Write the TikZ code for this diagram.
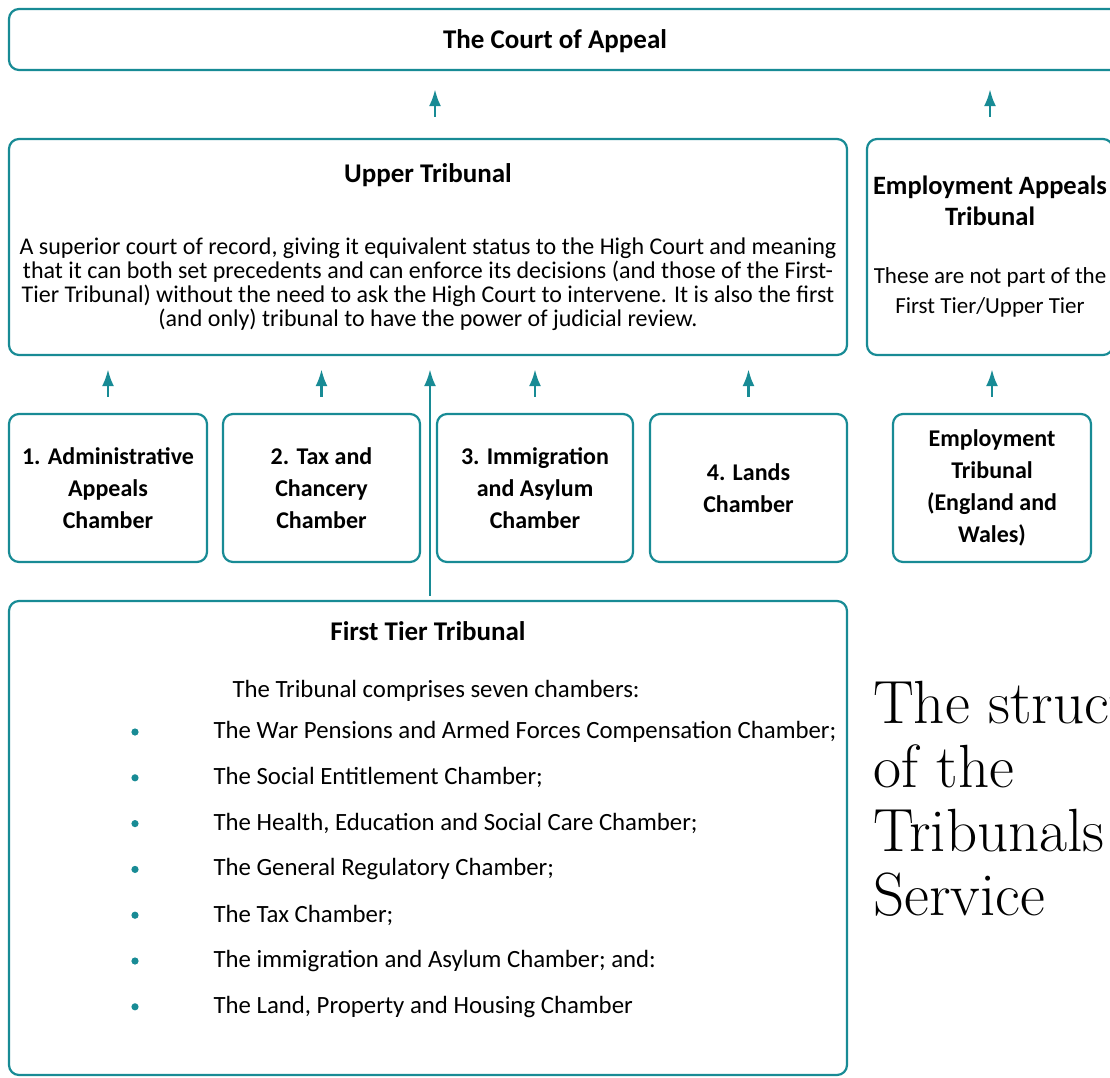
\documentclass[tikz,border=0pt]{standalone}
\usepackage{fontspec}
\newfontfamily\calib{Carlito}
\usepackage{xcolor}
\usetikzlibrary{calc}
\usetikzlibrary{arrows.meta}
\definecolor{tealline}{RGB}{24,139,149}
\tikzset{
  box/.style={draw=tealline, line width=2.2, rounded corners=10, align=center, inner sep=0,
    font=\calib\fontsize{24}{24}\selectfont},
  chamber/.style={box, minimum width=197, minimum height=148,
    font=\calib\bfseries\fontsize{24}{32}\selectfont},
  heading/.style={font=\calib\bfseries\fontsize{27}{27}\selectfont},
  listtext/.style={anchor=west, font=\calib\fontsize{24.8}{25}\selectfont},
  arr/.style={-{Latex[length=17pt,width=12pt]}, draw=tealline, line width=2.8},
}

\begin{document}
\begin{tikzpicture}[x=1pt,y=-1pt]
  \useasboundingbox (0,0) rectangle (1110,1077);

  % top row
  \node[box, minimum width=1121, minimum height=61] (court) at (569.5,39.5) {};
  \node[heading] (courtlbl) at (555,41) {The Court of Appeal};

  % second row
  \node[box, minimum width=838, minimum height=216] (upper) at (428,247)
    {{\bfseries\fontsize{27}{24}\selectfont Upper Tribunal}\\[48]
     A superior court of record, giving it equivalent status to the High Court and meaning\\
     that it can both set precedents and can enforce its decisions (and those of the First-\\
     Tier Tribunal) without the need to ask the High Court to intervene. It is also the first\\
     (and only) tribunal to have the power of judicial review.};
  \node[box, minimum width=246, minimum height=216] (eat) at (990,247)
    {{\bfseries\fontsize{26.5}{24}\selectfont Employment Appeals}\\[7]
     {\bfseries\fontsize{26.5}{24}\selectfont Tribunal}\\[34]
     {\fontsize{23}{24}\selectfont These are not part of the}\\[6]
     {\fontsize{23}{24}\selectfont First Tier/Upper Tier}};

  % chambers
  \node[chamber, minimum width=198] (ch1) at (108,488) {1. Administrative\\Appeals\\Chamber};
  \node[chamber] (ch2) at (321.5,488) {2. Tax and\\Chancery\\Chamber};
  \node[chamber, minimum width=196] (ch3) at (535,488) {3. Immigration\\and Asylum\\Chamber};
  \node[chamber] (ch4) at (748.5,488) {4. Lands\\Chamber};
  \node[chamber, minimum width=198] (et) at (992,488) {Employment\\Tribunal\\(England and\\Wales)};

  % first tier
  \node[box, minimum width=838, minimum height=474] (first) at (428,838) {};
  \node[heading] (firstlbl) at (428,631) {First Tier Tribunal};
  \node[listtext] (intro) at (229,691) {The Tribunal comprises seven chambers:};
  \foreach \txt [count=\i] in {
      {The War Pensions and Armed Forces Compensation Chamber;},
      {The Social Entitlement Chamber;},
      {The Health, Education and Social Care Chamber;},
      {The General Regulatory Chamber;},
      {The Tax Chamber;},
      {The immigration and Asylum Chamber; and:},
      {The Land, Property and Housing Chamber}} {
    \fill[tealline] (135,{732+45.8*(\i-1)}) circle (3.6);
    \node[listtext] (item\i) at (210,{732+45.8*(\i-1)}) {\txt};
  }

  % side title
  \node[anchor=base west, align=left, inner sep=0, font=\fontsize{61}{64}\selectfont] (title) at (873,915)
    {The structure\\of the\\Tribunals\\Service};

  % arrows
  \draw[arr] ([xshift=7,yshift=21]upper.north) -- ([yshift=-18]court.south -| 435,0);
  \draw[arr] ([yshift=21]eat.north) -- ([yshift=-18]court.south -| eat.north);
  \foreach \c in {ch1,ch2,ch3,ch4}
    \draw[arr] ([yshift=16]\c.north) -- ([yshift=-13]upper.south -| \c.north);
  \draw[arr] ([yshift=16]et.north) -- ([yshift=-13]eat.south -| et.north);
  \draw[arr] ([xshift=2,yshift=4]first.north) -- ([xshift=2,yshift=-13]upper.south);
\end{tikzpicture}
\end{document}
